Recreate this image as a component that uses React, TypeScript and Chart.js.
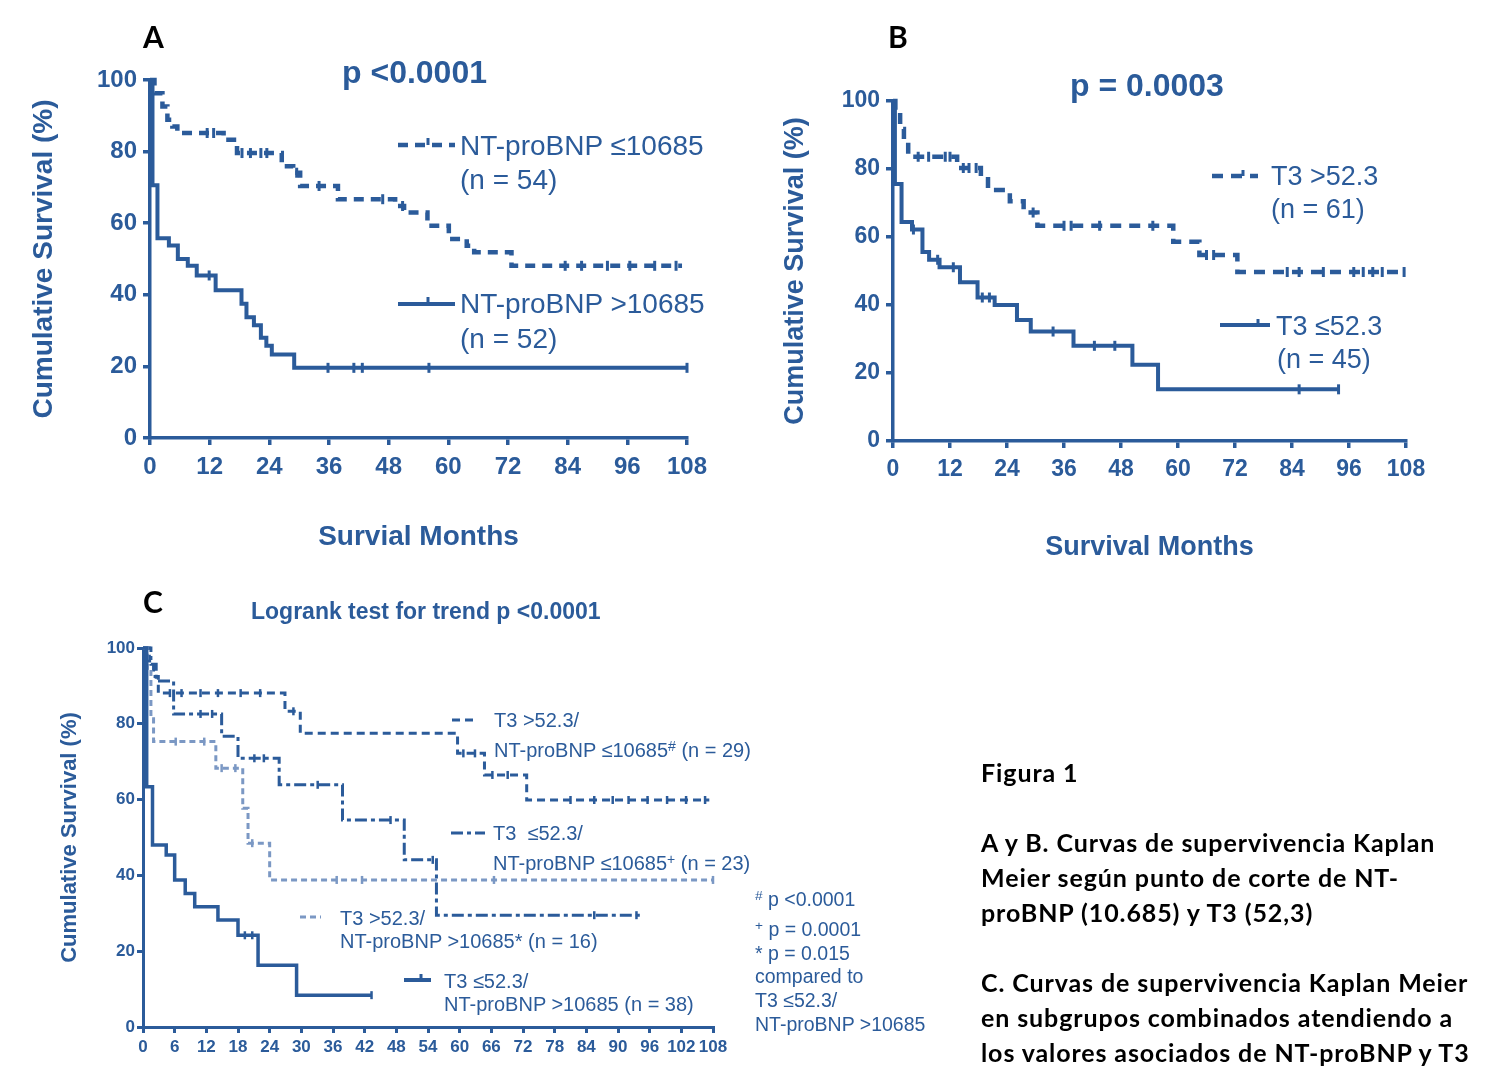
import React, { useEffect, useRef } from 'react';
import { Chart, registerables } from 'chart.js';
Chart.register(...registerables);

const BLUE = '#2b5b9a';
const LIGHT = '#7b98c4';
const FONT = "'Liberation Sans', Arial, Helvetica, sans-serif";
const CAP_FONT = "Lato, 'Open Sans', sans-serif";

// ---------- Panel A : NT-proBNP cut-off ----------
const A_X_TICKS = [0, 12, 24, 36, 48, 60, 72, 84, 96, 108];
const A_Y_TICKS = [0, 20, 40, 60, 80, 100];
const A_LOW_T = [0, 0.9, 2.5, 3.5, 4.5, 5.5, 14.8, 17.5, 26.5, 28.8, 30.2, 37.8, 49.3, 51.1, 55.8, 60.1, 63.7, 65.2, 72.7, 107];
const A_LOW_S = [100, 96.3, 92.6, 88.9, 87.0, 85.2, 83.3, 79.6, 75.9, 74.1, 70.4, 66.7, 64.8, 63.0, 59.3, 55.6, 53.7, 51.9, 48.1, 48.1];
const A_LOW_C = [11.5, 12.8, 18.5, 20.2, 22.3, 23.5, 29.5, 34, 46.8, 50.8, 83.5, 86.8, 92, 96.5, 101.5, 105.8];
const A_HIGH_T = [0, 0.5, 1.5, 3.8, 5.6, 7.6, 9.4, 13.2, 18.4, 19.4, 20.9, 22.3, 23.4, 24.5, 29, 108];
const A_HIGH_S = [100, 70.6, 55.8, 53.8, 50.0, 48.1, 45.4, 41.3, 37.5, 33.7, 31.5, 28.0, 25.8, 23.3, 19.6, 19.6];
const A_HIGH_C = [11.9, 35.8, 41, 42.7, 56.1, 108];

// ---------- Panel B : T3 cut-off ----------
const B_X_TICKS = [0, 12, 24, 36, 48, 60, 72, 84, 96, 108];
const B_Y_TICKS = [0, 20, 40, 60, 80, 100];
const B_HIGH_T = [0, 0.5, 1.5, 2.3, 3.2, 13.5, 18.5, 20, 24.6, 27.5, 30.4, 59, 64.5, 72.5, 108];
const B_HIGH_S = [100, 96.7, 91.8, 88.5, 83.6, 80.3, 77.0, 73.8, 70.5, 67.2, 63.3, 58.6, 54.7, 49.7, 49.7];
const B_HIGH_C = [5.3, 7.5, 11, 12, 14.8, 16, 17.5, 29.5, 36, 37.5, 43.5, 54.7, 66, 67.5, 83, 85.5, 90.6, 97, 99, 101, 103, 107.6];
const B_LOW_T = [0, 0.4, 1.8, 4, 6.2, 7.6, 9.8, 14.1, 17.8, 21.4, 26.1, 29, 38, 50.4, 55.8, 93.8];
const B_LOW_S = [100, 75.6, 64.4, 62.2, 55.6, 53.3, 51.1, 46.7, 42.2, 40.0, 35.6, 32.2, 28.0, 22.4, 15.2, 15.2];
const B_LOW_C = [4.3, 9.4, 12.7, 18.8, 20.3, 33.7, 42.4, 46.7, 85.5, 93.8];

// ---------- Panel C : combined subgroups ----------
const C_X_TICKS = [0, 6, 12, 18, 24, 30, 36, 42, 48, 54, 60, 66, 72, 78, 84, 90, 96, 102, 108];
const C_Y_TICKS = [0, 20, 40, 60, 80, 100];
const C1_T = [0, 1.2, 2, 2.9, 26.9, 29.8, 59.6, 64.7, 72.7, 107.3];
const C1_S = [100, 96.6, 92.5, 88.1, 83.3, 77.5, 72.2, 66.5, 59.9, 59.9];
const C1_C = [5.1, 7.3, 10.9, 14.2, 18.5, 22.2, 28.5, 60.7, 62.9, 66.2, 69.1, 81, 85.5, 89, 92, 95.6, 99.3, 102.9, 106.5];
const C2_T = [0, 1.5, 2.5, 5.8, 14.9, 18, 25.8, 37.8, 49.5, 55.6, 94.2];
const C2_S = [100, 95.7, 91.3, 82.6, 76.7, 70.9, 63.9, 54.6, 44.1, 29.5, 29.5];
const C2_C = [10.9, 13.1, 21.1, 22.9, 33.1, 46.9, 54.9, 85.5, 93.5];
const C3_T = [0, 0.8, 1.5, 2, 13.8, 18.9, 19.9, 24, 108];
const C3_S = [100, 93.8, 81.3, 75.3, 68.3, 57.7, 48.5, 38.8, 38.8];
const C3_C = [6.2, 11.6, 14.9, 17.5, 20.7, 36.7, 41.5, 66.5, 108];
const C4_T = [0, 0.7, 1.8, 4.4, 6, 8, 9.8, 14.2, 18, 21.8, 29.1, 43.3];
const C4_S = [100, 63.4, 48.0, 45.4, 38.8, 35.2, 31.7, 28.2, 24.2, 16.3, 8.4, 8.4];
const C4_C = [19.3, 20.7, 43.3];

type Pt = { x: number; y: number };
const kmPoints = (t: number[], s: number[]): Pt[] => t.map((x, i) => ({ x, y: s[i] }));
const stepAt = (t: number[], s: number[], x: number) => {
  let v = s[0];
  for (let i = 0; i < t.length; i++) if (t[i] <= x) v = s[i];
  return v;
};
const censorPoints = (t: number[], s: number[], c: number[]): Pt[] =>
  c.map((x) => ({ x, y: stepAt(t, s, x) }));

function curve(t: number[], s: number[], color: string, width: number, dash: number[]) {
  return {
    type: 'line',
    data: kmPoints(t, s),
    stepped: true,
    borderColor: color,
    borderWidth: width,
    borderDash: dash,
    borderCapStyle: 'butt',
    pointRadius: 0,
    fill: false,
    clip: false,
  };
}
function censors(t: number[], s: number[], c: number[], color: string, r: number, w: number) {
  return {
    type: 'line',
    data: censorPoints(t, s, c),
    showLine: false,
    pointStyle: 'line',
    rotation: 90,
    pointRotation: 90,
    pointRadius: r,
    pointBorderWidth: w,
    pointBorderColor: color,
    pointBackgroundColor: color,
    borderColor: color,
    clip: false,
  };
}

interface PanelCfg {
  datasets: any[];
  xTicks: number[];
  yTicks: number[];
  padTop: number;
  padRight: number;
  yW: number;
  xH: number;
  tickFont: number;
  tickLen: number;
  yTickPad: number;
  xTickPad: number;
  axisW: number;
  yTitle: string;
  yTitleFont: number;
  yTitlePad: number;
  xTitle?: string;
  xTitleFont?: number;
  xTitlePad?: number;
}

function makeChart(canvas: HTMLCanvasElement, cfg: PanelCfg) {
  return new Chart(canvas, {
    type: 'line',
    data: { datasets: cfg.datasets },
    options: {
      animation: false,
      responsive: false,
      maintainAspectRatio: false,
      events: [],
      layout: { padding: { top: cfg.padTop, right: cfg.padRight, left: 0, bottom: 0 } },
      plugins: { legend: { display: false }, tooltip: { enabled: false } },
      scales: {
        x: {
          type: 'linear',
          min: 0,
          max: 108,
          afterFit: (s: any) => { s.height = cfg.xH; },
          afterBuildTicks: (s: any) => { s.ticks = cfg.xTicks.map((v) => ({ value: v })); },
          ticks: {
            autoSkip: false,
            maxRotation: 0,
            minRotation: 0,
            padding: cfg.xTickPad,
            color: BLUE,
            font: { family: FONT, size: cfg.tickFont, weight: 'bold' },
          },
          grid: { drawOnChartArea: false, drawTicks: true, tickLength: cfg.tickLen, lineWidth: cfg.axisW, color: BLUE },
          border: { display: true, width: cfg.axisW, color: BLUE },
          title: cfg.xTitle
            ? {
                display: true,
                text: cfg.xTitle,
                color: BLUE,
                font: { family: FONT, size: cfg.xTitleFont, weight: 'bold' },
                padding: { top: 0, bottom: cfg.xTitlePad },
              }
            : { display: false },
        },
        y: {
          type: 'linear',
          min: 0,
          max: 100,
          afterFit: (s: any) => { s.width = cfg.yW; },
          afterBuildTicks: (s: any) => { s.ticks = cfg.yTicks.map((v) => ({ value: v })); },
          ticks: {
            padding: cfg.yTickPad,
            color: BLUE,
            font: { family: FONT, size: cfg.tickFont, weight: 'bold' },
          },
          grid: { drawOnChartArea: false, drawTicks: true, tickLength: cfg.tickLen, lineWidth: cfg.axisW, color: BLUE },
          border: { display: true, width: cfg.axisW, color: BLUE },
          title: {
            display: true,
            text: cfg.yTitle,
            color: BLUE,
            font: { family: FONT, size: cfg.yTitleFont, weight: 'bold' },
            padding: { top: cfg.yTitlePad, bottom: 0 },
          },
        },
      },
    } as any,
  } as any);
}

function T(props: { x: number; y: number; size: number; bold?: boolean; color?: string; font?: string; ls?: number; children: any }) {
  return (
    <div
      style={{
        position: 'absolute',
        left: props.x,
        top: props.y,
        transform: 'translateY(-50%)',
        fontFamily: props.font || FONT,
        fontSize: props.size,
        fontWeight: props.bold ? 700 : 400,
        color: props.color || BLUE,
        letterSpacing: props.ls || 0,
        lineHeight: 1,
        whiteSpace: 'pre',
      }}
    >
      {props.children}
    </div>
  );
}

const sup = (s: string) => <sup style={{ fontSize: '0.7em', verticalAlign: '0.45em', lineHeight: 0 }}>{s}</sup>;

function Cap(props: { y: number; children: any }) {
  return (
    <T x={981} y={props.y} size={25} bold color="#000" font={CAP_FONT} ls={0.9}>
      {props.children}
    </T>
  );
}

export default function App() {
  const refA = useRef<HTMLCanvasElement>(null);
  const refB = useRef<HTMLCanvasElement>(null);
  const refC = useRef<HTMLCanvasElement>(null);

  useEffect(() => {
    const charts: Chart[] = [];
    if (refA.current) {
      charts.push(
        makeChart(refA.current, {
          datasets: [
            curve(A_HIGH_T, A_HIGH_S, BLUE, 4, []),
            censors(A_HIGH_T, A_HIGH_S, A_HIGH_C, BLUE, 5, 3),
            curve(A_LOW_T, A_LOW_S, BLUE, 4.5, [10, 7]),
            censors(A_LOW_T, A_LOW_S, A_LOW_C, BLUE, 5, 3),
          ],
          xTicks: A_X_TICKS, yTicks: A_Y_TICKS,
          padTop: 80, padRight: 33, yW: 150, xH: 132,
          tickFont: 24, tickLen: 7, yTickPad: 6, xTickPad: 8, axisW: 3.5,
          yTitle: 'Cumulative Survival (%)', yTitleFont: 28, yTitlePad: 27,
          xTitle: 'Survial Months', xTitleFont: 28, xTitlePad: 16,
        })
      );
    }
    if (refB.current) {
      charts.push(
        makeChart(refB.current, {
          datasets: [
            curve(B_LOW_T, B_LOW_S, BLUE, 4, []),
            censors(B_LOW_T, B_LOW_S, B_LOW_C, BLUE, 5, 3),
            curve(B_HIGH_T, B_HIGH_S, BLUE, 4.5, [11, 8]),
            censors(B_HIGH_T, B_HIGH_S, B_HIGH_C, BLUE, 5, 3),
          ],
          xTicks: B_X_TICKS, yTicks: B_Y_TICKS,
          padTop: 41, padRight: 54, yW: 133, xH: 139,
          tickFont: 23, tickLen: 7, yTickPad: 6, xTickPad: 8, axisW: 3.5,
          yTitle: 'Cumulative Survival (%)', yTitleFont: 27, yTitlePad: 19,
          xTitle: 'Survival Months', xTitleFont: 27, xTitlePad: 16,
        })
      );
    }
    if (refC.current) {
      charts.push(
        makeChart(refC.current, {
          datasets: [
            curve(C4_T, C4_S, BLUE, 3.5, []),
            censors(C4_T, C4_S, C4_C, BLUE, 4, 2.5),
            curve(C3_T, C3_S, LIGHT, 3, [6, 4]),
            censors(C3_T, C3_S, C3_C, LIGHT, 4, 2.5),
            curve(C2_T, C2_S, BLUE, 3, [12, 4, 4, 4]),
            censors(C2_T, C2_S, C2_C, BLUE, 4, 2.5),
            curve(C1_T, C1_S, BLUE, 3, [8, 5]),
            censors(C1_T, C1_S, C1_C, BLUE, 4, 2.5),
          ],
          xTicks: C_X_TICKS, yTicks: C_Y_TICKS,
          padTop: 18, padRight: 27, yW: 103, xH: 43,
          tickFont: 17, tickLen: 6, yTickPad: 2, xTickPad: 4, axisW: 3,
          yTitle: 'Cumulative Survival (%)', yTitleFont: 22, yTitlePad: 17,
        })
      );
    }
    return () => charts.forEach((c) => c.destroy());
  }, []);

  const cv = (left: number, top: number, w: number, h: number) => ({
    position: 'absolute' as const, left, top, width: w, height: h,
  });

  return (
    <div style={{ position: 'absolute', left: 0, top: 0, width: 1496, height: 1087, background: '#fff', overflow: 'hidden' }}>
      <canvas ref={refA} width={720} height={570} style={cv(0, 0, 720, 570)} />
      <canvas ref={refB} width={700} height={520} style={cv(760, 60, 700, 520)} />
      <canvas ref={refC} width={700} height={440} style={cv(40, 630, 700, 440)} />

      <svg width={1496} height={1087} style={{ position: 'absolute', left: 0, top: 0, pointerEvents: 'none' }}>
        {/* Panel A legend samples */}
        <line x1={398} y1={145} x2={455} y2={145} stroke={BLUE} strokeWidth={4.5} strokeDasharray="10 7" />
        <line x1={428} y1={138} x2={428} y2={145} stroke={BLUE} strokeWidth={3} />
        <line x1={398} y1={304} x2={455} y2={304} stroke={BLUE} strokeWidth={4} />
        <line x1={428} y1={297} x2={428} y2={304} stroke={BLUE} strokeWidth={3} />
        {/* Panel B legend samples */}
        <line x1={1212} y1={176} x2={1258} y2={176} stroke={BLUE} strokeWidth={4.5} strokeDasharray="11 8" />
        <line x1={1243} y1={170} x2={1243} y2={176} stroke={BLUE} strokeWidth={3} />
        <line x1={1220} y1={325} x2={1270} y2={325} stroke={BLUE} strokeWidth={4} />
        <line x1={1258} y1={319} x2={1258} y2={325} stroke={BLUE} strokeWidth={3} />
        {/* Panel C legend samples */}
        <line x1={452} y1={720} x2={476} y2={720} stroke={BLUE} strokeWidth={3} strokeDasharray="8 5" />
        <line x1={451} y1={833} x2={485} y2={833} stroke={BLUE} strokeWidth={3} strokeDasharray="12 4 4 4" />
        <line x1={300} y1={917} x2={321} y2={917} stroke={LIGHT} strokeWidth={3} strokeDasharray="6 4" />
        <line x1={404} y1={980} x2={431} y2={980} stroke={BLUE} strokeWidth={4} />
        <line x1={421} y1={974} x2={421} y2={980} stroke={BLUE} strokeWidth={3} />
      </svg>

      {/* Panel A texts */}
      <T x={143} y={36} size={30} bold color="#000" font={CAP_FONT}>A</T>
      <T x={342} y={72} size={32} bold>p &lt;0.0001</T>
      <T x={460} y={146} size={28}>NT-proBNP ≤10685</T>
      <T x={460} y={180} size={28}>(n = 54)</T>
      <T x={460} y={304} size={28}>NT-proBNP &gt;10685</T>
      <T x={460} y={339} size={28}>(n = 52)</T>

      {/* Panel B texts */}
      <T x={888} y={36} size={30} bold color="#000" font={CAP_FONT}>B</T>
      <T x={1070} y={85} size={32} bold>p = 0.0003</T>
      <T x={1271} y={176} size={27}>T3 &gt;52.3</T>
      <T x={1271} y={209} size={27}>(n = 61)</T>
      <T x={1276} y={326} size={27}>T3 ≤52.3</T>
      <T x={1277} y={359} size={27}>(n = 45)</T>

      {/* Panel C texts */}
      <T x={143} y={601} size={30} bold color="#000" font={CAP_FONT}>C</T>
      <T x={251} y={611} size={23} bold>Logrank test for trend p &lt;0.0001</T>
      <T x={494} y={720} size={20}>T3 &gt;52.3/</T>
      <T x={494} y={750} size={20}>NT-proBNP ≤10685{sup('#')} (n = 29)</T>
      <T x={493} y={833} size={20}>T3  ≤52.3/</T>
      <T x={493} y={863} size={20}>NT-proBNP ≤10685{sup('+')} (n = 23)</T>
      <T x={340} y={918} size={20}>T3 &gt;52.3/</T>
      <T x={340} y={941} size={20}>NT-proBNP &gt;10685* (n = 16)</T>
      <T x={444} y={981} size={20}>T3 ≤52.3/</T>
      <T x={444} y={1004} size={20}>NT-proBNP &gt;10685 (n = 38)</T>

      <T x={755} y={900} size={19.5}>{sup('#')} p &lt;0.0001</T>
      <T x={755} y={930} size={19.5}>{sup('+')} p = 0.0001</T>
      <T x={755} y={954} size={19.5}>* p = 0.015</T>
      <T x={755} y={977} size={19.5}>compared to</T>
      <T x={755} y={1001} size={19.5}>T3 ≤52.3/</T>
      <T x={755} y={1025} size={19.5}>NT-proBNP &gt;10685</T>

      {/* Caption */}
      <Cap y={772}>Figura 1</Cap>
      <Cap y={842}>A y B. Curvas de supervivencia Kaplan</Cap>
      <Cap y={877}>Meier según punto de corte de NT-</Cap>
      <Cap y={912}>proBNP (10.685) y T3 (52,3)</Cap>
      <Cap y={982}>C. Curvas de supervivencia Kaplan Meier</Cap>
      <Cap y={1017}>en subgrupos combinados atendiendo a</Cap>
      <Cap y={1052}>los valores asociados de NT-proBNP y T3</Cap>
    </div>
  );
}
